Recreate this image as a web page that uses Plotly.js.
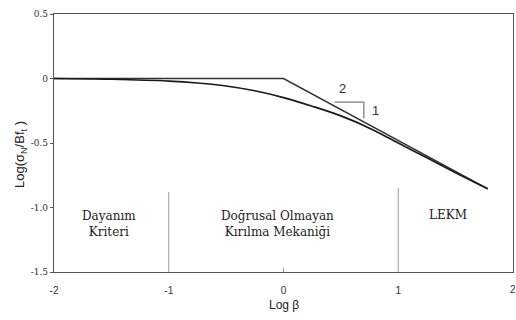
<!DOCTYPE html>
<html>
<head>
<meta charset="utf-8">
<script src="https://cdn.plot.ly/plotly-3.0.1.min.js"></script>
<style>html,body{margin:0;padding:0;background:#fff}#chart{width:516px;height:320px}</style>
</head>
<body>
<div id="chart"></div>
<script>
// Asymptote (strength criterion + LEFM line)
const asymX = [-2, 0, 1.78];
const asymY = [0, 0, -0.855];
// Size effect curve
const curveX = [-2, -1.5, -1.0, -0.75, -0.5, -0.25, 0, 0.25, 0.5, 0.75, 1.0, 1.25, 1.5, 1.78];
const curveY = [0, -0.006, -0.02, -0.035, -0.058, -0.095, -0.148, -0.215, -0.29, -0.385, -0.5, -0.615, -0.73, -0.855];
// Slope triangle
const triX = [0.445, 0.70, 0.70];
const triY = [-0.183, -0.183, -0.31];
// Region dividers
const dividerX = [-1, 1];
const dividerTop = [-0.88, -0.85];
// small inside tick at x = 0
const midTickX = [0, 0];
const midTickY = [-1.5, -1.47];
const xTicks = [-2, -1, 0, 1, 2];
const xTickText = ['-2', '-1', '0', '1', '2'];
const yTicks = [0.5, 0, -0.5, -1.0, -1.5];
const yTickText = ['0.5', '0', '-0.5', '-1.0', '-1.5'];
const regionLabels = ['Dayanım<br>Kriteri', 'Doğrusal Olmayan<br>Kırılma Mekaniği', 'LEKM'];
const regionX = [-1.52, -0.05, 1.43];
const regionY = [-1.125, -1.125, -1.058];

const SERIF = "DejaVu Serif";
const SANS = "Liberation Sans";

const traces = [
  {x: asymX, y: asymY, mode: 'lines', line: {color: '#333', width: 1.5}, hoverinfo: 'skip'},
  {x: curveX, y: curveY, mode: 'lines', line: {color: '#1a1a1a', width: 1.7, shape: 'spline'}, hoverinfo: 'skip'},
  {x: triX, y: triY, mode: 'lines', line: {color: '#777', width: 1.2}, hoverinfo: 'skip'},
  {x: midTickX, y: midTickY, mode: 'lines', line: {color: '#999', width: 1}, hoverinfo: 'skip'}
];
dividerX.forEach((dx, i) => traces.push({x: [dx, dx], y: [dividerTop[i], -1.5], mode: 'lines', line: {color: '#999', width: 1}, hoverinfo: 'skip'}));

const annotations = regionLabels.map((t, i) => ({
  x: regionX[i], y: regionY[i], xref: 'x', yref: 'y', text: t, showarrow: false,
  font: {family: SERIF, size: 12, color: '#222'}, align: 'center'
}));
annotations.push({x: 0.51, y: -0.08, xref: 'x', yref: 'y', text: '2', showarrow: false,
  font: {family: SANS, size: 13, color: '#333'}});
annotations.push({x: 0.80, y: -0.245, xref: 'x', yref: 'y', text: '1', showarrow: false,
  font: {family: SANS, size: 13, color: '#333'}});

const L = 54, R = 3, T = 14, B = 48, W = 516, H = 320;
const pw = W - L - R, ph = H - T - B;
annotations.push({x: (20 - L) / pw, y: (H - B - 155) / ph, xref: 'paper', yref: 'paper', xanchor: 'center', yanchor: 'middle',
  text: 'Log(σ<sub>N</sub>/Bf<sub>t</sub> )', showarrow: false, textangle: -90,
  font: {family: SANS, size: 13, color: '#222'}});
annotations.push({x: 0.5, y: (H - B - 305) / ph, xref: 'paper', yref: 'paper', yanchor: 'middle', text: 'Log β', showarrow: false,
  font: {family: SANS, size: 12, color: '#222'}});
// last x tick label (Plotly hides it at the div edge), drawn at its axis value
const lastI = xTicks.length - 1;
annotations.push({x: xTicks[lastI], y: (H - B - 289) / ph, xref: 'x', yref: 'paper', yanchor: 'middle', xanchor: 'center',
  text: xTickText[lastI], showarrow: false, font: {family: SANS, size: 10, color: '#333'}});

const layout = {
  width: W, height: H,
  font: {family: SANS},
  margin: {l: L, r: R, t: T, b: B, pad: 0},
  showlegend: false,
  paper_bgcolor: '#fff', plot_bgcolor: '#fff',
  xaxis: {range: [-2, 2], tickvals: xTicks.slice(0, lastI), ticktext: xTickText.slice(0, lastI),
    ticks: 'outside', ticklen: 9, tickcolor: 'rgba(0,0,0,0)', tickwidth: 0.1,
    automargin: false,
    showgrid: false, zeroline: false, showline: true, mirror: true, linecolor: '#555', linewidth: 1.2,
    tickfont: {family: SANS, size: 10, color: '#333'}, fixedrange: true},
  yaxis: {range: [-1.5, 0.5], tickvals: yTicks, ticktext: yTickText, ticks: 'outside', ticklen: 3, tickcolor: '#555',
    automargin: false,
    showgrid: false, zeroline: false, showline: true, mirror: true, linecolor: '#555', linewidth: 1.2,
    tickfont: {family: SERIF, size: 9, color: '#333'}, fixedrange: true},
  annotations: annotations
};
Plotly.newPlot('chart', traces, layout, {displayModeBar: false, staticPlot: true});
</script>
</body>
</html>
